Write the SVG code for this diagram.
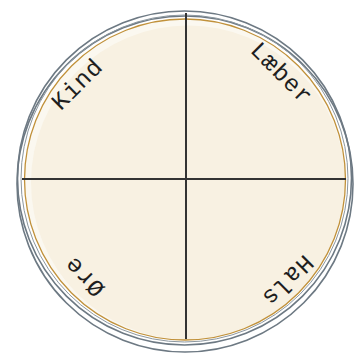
<svg xmlns="http://www.w3.org/2000/svg" width="356" height="356" viewBox="0 0 356 356">
  <style>
    .rim { fill: none; stroke: #6d7983; stroke-width: 1.6; }
    .rim2 { fill: none; stroke: #8c979f; stroke-width: 1; }
    .div { stroke: #333333; stroke-width: 2; }
    .lbl { font-family: "Courier", "Nimbus Mono PS", "FreeMono", "Courier New", "Liberation Mono", monospace; font-size: 24px; fill: #1e1e1e; text-anchor: middle; dominant-baseline: central; letter-spacing: 1px; }
  </style>
  <g id="dish">
    <circle cx="185" cy="184" r="168" fill="#edf6f9" class="rim"/>
    <circle cx="184.5" cy="178" r="167" fill="#e3eaed" class="rim"/>
    <circle cx="184.5" cy="178.5" r="163.5" class="rim2"/>
  </g>
  <g id="agar">
    <circle cx="185" cy="179.5" r="160.5" fill="#fbf8f0"/>
    <circle cx="188" cy="182.5" r="157" fill="#f8f1e2"/>
    <circle cx="185" cy="179.5" r="160.5" fill="none" stroke="#c1913a" stroke-width="1.3"/>
  </g>
  <g id="connectors">
    <line class="div" x1="186" y1="13" x2="186" y2="339"/>
    <line class="div" x1="22" y1="179" x2="346" y2="179"/>
  </g>
  <g id="kind"><text class="lbl" transform="translate(78,85) rotate(-45)">Kind</text></g>
  <g id="laeber"><text class="lbl" transform="translate(281,74) rotate(45)">Læber</text></g>
  <g id="oere"><text class="lbl" transform="translate(85,276) rotate(-135)">Øre</text></g>
  <g id="hals"><text class="lbl" transform="translate(287,280) rotate(135)">Hals</text></g>
</svg>
